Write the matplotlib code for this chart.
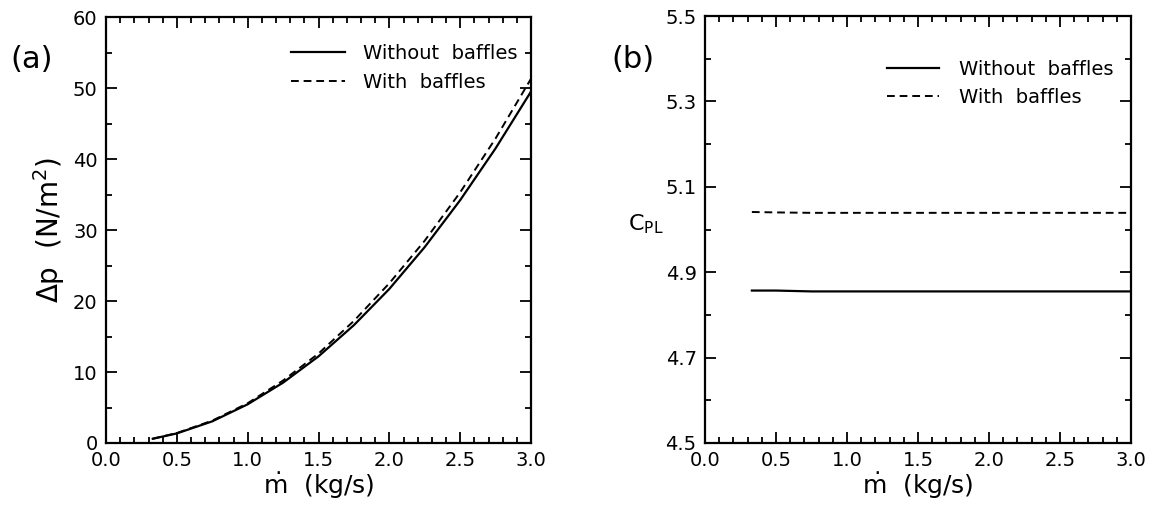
import matplotlib
matplotlib.use("Agg")
import matplotlib.pyplot as plt
from matplotlib.ticker import MultipleLocator, FixedLocator, FormatStrFormatter

# Mass flow rate (kg/s)
mdot = [0.33, 0.5, 0.75, 1.0, 1.25, 1.5, 1.75, 2.0, 2.25, 2.5, 2.75, 3.0]
# Pressure drop (N/m^2)
dp_without = [0.6, 1.35, 3.05, 5.45, 8.5, 12.2, 16.6, 21.7, 27.6, 34.2, 41.5, 49.5]
dp_with = [0.6, 1.4, 3.15, 5.6, 8.8, 12.6, 17.2, 22.5, 28.5, 35.3, 42.9, 51.3]
# Pressure loss coefficient
cpl_without = [4.857, 4.857, 4.855, 4.855, 4.855, 4.855, 4.855, 4.855, 4.855, 4.855, 4.855, 4.855]
cpl_with = [5.041, 5.040, 5.039, 5.039, 5.039, 5.039, 5.039, 5.039, 5.039, 5.039, 5.039, 5.039]

labels = ["Without  baffles", "With  baffles"]
cpl_ticks = [4.5, 4.7, 4.9, 5.1, 5.3, 5.5]

plt.rcParams["font.family"] = "DejaVu Sans"
FS = 14

fig = plt.figure(figsize=(11.49, 5.07), dpi=100)
H = 507.0
W = 1149.0
axa = fig.add_axes([106 / W, 1 - 443 / H, 425 / W, 426 / H])
axb = fig.add_axes([705 / W, 1 - 443 / H, 426 / W, 427 / H])


def style(ax):
    for s in ax.spines.values():
        s.set_linewidth(1.6)
    ax.tick_params(which="both", direction="in", top=True, right=True,
                   labelsize=FS, width=1.3, pad=6)
    ax.tick_params(which="major", length=8)
    ax.tick_params(which="minor", length=4)
    ax.set_xlim(0, 3.0)
    ax.xaxis.set_major_locator(MultipleLocator(0.5))
    ax.xaxis.set_minor_locator(MultipleLocator(0.1))
    ax.xaxis.set_major_formatter(FormatStrFormatter("%.1f"))
    ax.set_xlabel(r"$\dot{\mathrm{m}}$  (kg/s)", fontsize=18, labelpad=0)


# (a) pressure drop
style(axa)
la, = axa.plot(mdot, dp_without, color="black", lw=1.6)
lb, = axa.plot(mdot, dp_with, color="black", lw=1.4, ls=(0, (4, 2.5)))
axa.set_ylim(0, 60)
axa.yaxis.set_major_locator(MultipleLocator(10))
axa.yaxis.set_minor_locator(MultipleLocator(5))
axa.set_ylabel(r"$\Delta$p  (N/m$^2$)", fontsize=20, labelpad=4)
axa.legend([la, lb], labels, loc="upper right", frameon=False, fontsize=FS,
           handlelength=2.8, handletextpad=0.9, labelspacing=0.5,
           bbox_to_anchor=(1.0, 0.969), borderaxespad=0.3)
fig.text(10 / W, 1 - 59 / H, "(a)", fontsize=22, va="center", ha="left")

# (b) pressure loss coefficient
style(axb)
lc, = axb.plot(mdot, cpl_without, color="black", lw=1.6)
ld, = axb.plot(mdot, cpl_with, color="black", lw=1.4, ls=(0, (4, 2.5)))
axb.set_ylim(4.5, 5.5)
axb.yaxis.set_major_locator(FixedLocator(cpl_ticks))
axb.yaxis.set_minor_locator(MultipleLocator(0.1))
axb.yaxis.set_major_formatter(FormatStrFormatter("%.1f"))
axb.legend([lc, ld], labels, loc="upper right", frameon=False, fontsize=FS,
           handlelength=2.7, handletextpad=1.0, labelspacing=0.5,
           bbox_to_anchor=(0.99, 0.93), borderaxespad=0.3)
fig.text(611 / W, 1 - 60 / H, "(b)", fontsize=22, va="center", ha="left")
fig.text(628 / W, 1 - 224 / H, r"C$_{\mathrm{PL}}$", fontsize=16, va="center", ha="left")

fig.savefig("out.png", dpi=100)
